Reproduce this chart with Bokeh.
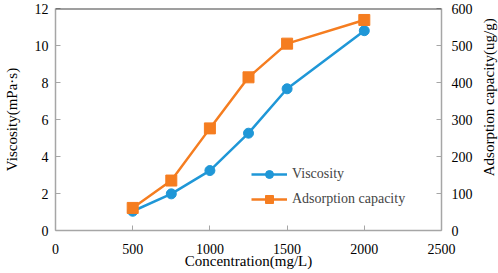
import math
from bokeh.plotting import figure
from bokeh.layouts import row
from bokeh.models import Range1d, LinearAxis, FixedTicker, Span, Legend, LegendItem, Label
from bokeh.embed import file_html
from bokeh.resources import INLINE

concentration = [500, 750, 1000, 1250, 1500, 2000]
viscosity = [1.04, 1.98, 3.24, 5.26, 7.66, 10.8]
adsorption = [61, 135, 276, 414, 505, 569]
x_ticks = [0, 500, 1000, 1500, 2000, 2500]
y_ticks = [0, 2, 4, 6, 8, 10, 12]
y2_ticks = [0, 100, 200, 300, 400, 500, 600]

BLUE = "#1F97D7"
ORANGE = "#F57D20"
FONT = "'Liberation Serif', 'Times New Roman', serif"

p = figure(width=478, height=273, output_backend="svg", toolbar_location=None,
           x_range=Range1d(0, 2500), y_range=Range1d(0, 12),
           min_border_left=48, min_border_right=37, min_border_top=8, min_border_bottom=43)
p.extra_y_ranges = {"ads": Range1d(0, 600)}
p.outline_line_color = None
p.xgrid.visible = False
p.ygrid.visible = False

def style(ax, ticks):
    ax.ticker = FixedTicker(ticks=ticks)
    ax.minor_tick_line_color = None
    ax.major_tick_in = 5
    ax.major_tick_out = 0
    ax.axis_line_color = "#A6A6A6"
    ax.major_tick_line_color = "#A6A6A6"
    ax.axis_line_width = 1.5
    ax.major_label_text_font = FONT
    ax.major_label_text_font_size = "14px"
    ax.major_label_text_color = "#000000"
    ax.axis_label_text_font = FONT
    ax.axis_label_text_font_size = "15px"
    ax.axis_label_text_font_style = "normal"
    ax.axis_label_text_color = "#000000"

p.xaxis.axis_label = "Concentration(mg/L)"
style(p.xaxis[0], x_ticks)
p.xaxis.major_label_standoff = 13
p.xaxis.axis_label_standoff = -4

p.yaxis.axis_label = "Viscosity(mPa·s)"
style(p.yaxis[0], y_ticks)
p.yaxis.major_label_standoff = 7
p.yaxis.axis_label_standoff = 12

ax2 = LinearAxis(y_range_name="ads")
style(ax2, y2_ticks)
ax2.major_label_standoff = 10
p.add_layout(ax2, "right")

p.add_layout(Span(location=12, dimension="width", line_color="#404040", line_width=2))

r1 = p.line(concentration, viscosity, line_color=BLUE, line_width=2.5)
c1 = p.scatter(concentration, viscosity, marker="circle", size=10, fill_color=BLUE, line_color=BLUE)
r2 = p.line(concentration, adsorption, y_range_name="ads", line_color=ORANGE, line_width=2.5)
c2 = p.scatter(concentration, adsorption, y_range_name="ads", marker="square", size=11,
               fill_color=ORANGE, line_color=ORANGE)

legend = Legend(items=[LegendItem(label="Viscosity", renderers=[r1, c1]),
                       LegendItem(label="Adsorption capacity", renderers=[r2, c2])],
                location=(196, 21), background_fill_alpha=0, border_line_color=None,
                label_text_font=FONT, label_text_font_size="14px",
                glyph_width=36, glyph_height=20, spacing=5, padding=2, margin=0,
                label_standoff=5)
p.add_layout(legend, "center")

# narrow companion figure carrying the right axis title (reads bottom-to-top)
p2 = figure(width=20, height=273, output_backend="svg", toolbar_location=None,
            x_range=Range1d(0, 1), y_range=Range1d(0, 1),
            min_border_left=0, min_border_right=0, min_border_top=0, min_border_bottom=0)
p2.axis.visible = False
p2.xgrid.visible = False
p2.ygrid.visible = False
p2.outline_line_color = None
p2.add_layout(Label(x=0.5, y=0.6, text="Adsorption capacity(ug/g)", angle=math.pi / 2,
                    text_font=FONT, text_font_size="15px", text_color="#000000",
                    text_align="center", text_baseline="middle"))

layout = row(p, p2, spacing=0)

html = file_html(layout, INLINE)
html = html.replace("<head>", "<head><style>body{margin:0;}</style>", 1)
open("out.html", "w").write(html)
